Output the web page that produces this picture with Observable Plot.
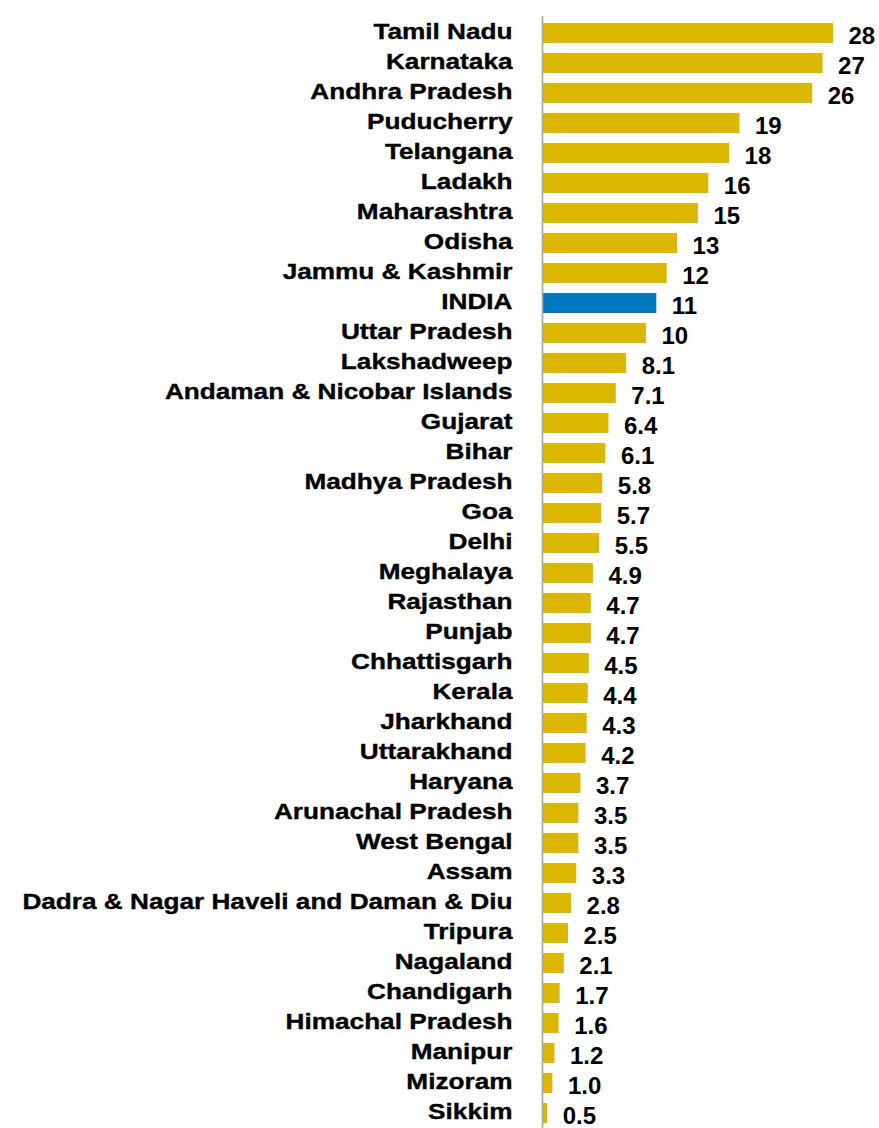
<!DOCTYPE html>
<html><head><meta charset="utf-8">
<script src="https://cdn.jsdelivr.net/npm/d3@7"></script>
<script src="https://cdn.jsdelivr.net/npm/@observablehq/plot@0.6"></script>
<style>body{margin:0;background:#fff}</style>
</head><body><div id="chart"></div>
<script>
const states = ["Tamil Nadu","Karnataka","Andhra Pradesh","Puducherry","Telangana","Ladakh","Maharashtra","Odisha","Jammu & Kashmir","INDIA","Uttar Pradesh","Lakshadweep","Andaman & Nicobar Islands","Gujarat","Bihar","Madhya Pradesh","Goa","Delhi","Meghalaya","Rajasthan","Punjab","Chhattisgarh","Kerala","Jharkhand","Uttarakhand","Haryana","Arunachal Pradesh","West Bengal","Assam","Dadra & Nagar Haveli and Daman & Diu","Tripura","Nagaland","Chandigarh","Himachal Pradesh","Manipur","Mizoram","Sikkim"];
const values = [28,27,26,19,18,16,15,13,12,11,10,8.1,7.1,6.4,6.1,5.8,5.7,5.5,4.9,4.7,4.7,4.5,4.4,4.3,4.2,3.7,3.5,3.5,3.3,2.8,2.5,2.1,1.7,1.6,1.2,1.0,0.5];
const valueLabels = ["28","27","26","19","18","16","15","13","12","11","10","8.1","7.1","6.4","6.1","5.8","5.7","5.5","4.9","4.7","4.7","4.5","4.4","4.3","4.2","3.7","3.5","3.5","3.3","2.8","2.5","2.1","1.7","1.6","1.2","1.0","0.5"];
const highlight = "INDIA";
const barColor = "#DCB700";
const highlightColor = "#0077C0";

const data = states.map((s, i) => ({state: s, value: values[i], label: valueLabels[i]}));

const chart = Plot.plot({
  width: 879, height: 1128,
  marginTop: 16, marginBottom: 0, marginLeft: 0, marginRight: 0,
  x: {domain: [0, 28], range: [542, 833], axis: null},
  y: {domain: states, range: [15.9, 1130.8], paddingInner: 0.336, paddingOuter: 0.168, axis: null},
  style: {fontFamily: "'Liberation Sans', Arial, sans-serif", background: "#fff"},
  marks: [
    Plot.barX(data, {y: "state", x: "value", fill: d => d.state === highlight ? highlightColor : barColor}),
    Plot.ruleX([0], {stroke: "#A6A6A6", strokeWidth: 1.7}),
    Plot.text(data, {y: "state", x: 0, text: "state", textAnchor: "end", dx: -30, dy: -2, fontSize: 22, fontWeight: "bold", fill: "#000", stroke: "#000", strokeWidth: 0.35}),
    Plot.text(data, {y: "state", x: "value", text: "label", textAnchor: "start", dx: 15, dy: 2.5, fontSize: 24, fontWeight: "bold", fill: "#000"})
  ]
});

const groups = chart.querySelectorAll('g[aria-label="text"]');
groups[0].querySelectorAll("text").forEach(t => {
  const s = 1.19;
  const tr = t.getAttribute("transform") || "";
  if (t.hasAttribute("x")) {
    const x = +t.getAttribute("x");
    t.setAttribute("transform", `${tr} translate(${x * (1 - s)},0) scale(${s},1)`);
  } else {
    t.setAttribute("transform", `${tr} scale(${s},1)`);
  }
});
document.getElementById("chart").append(chart);
</script>
</body></html>
